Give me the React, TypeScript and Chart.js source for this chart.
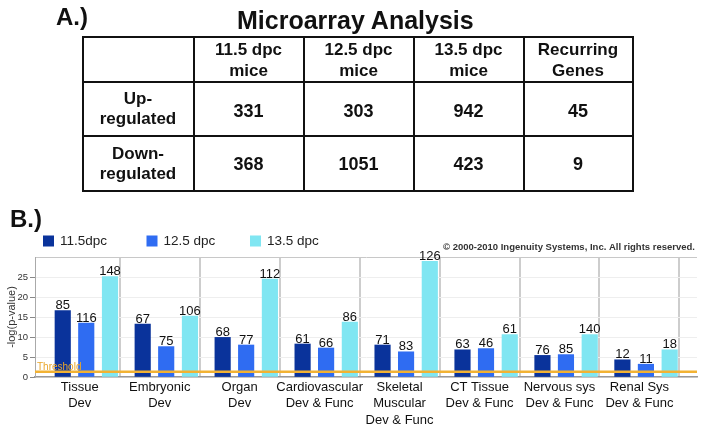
import React, { useEffect, useRef } from 'react';
import { Chart, registerables } from 'chart.js';

Chart.register(...registerables);

// ---------- Data (Panel A: table) ----------
const tableHeaders = [['11.5 dpc', 'mice'], ['12.5 dpc', 'mice'], ['13.5 dpc', 'mice'], ['Recurring', 'Genes']];
const tableRowLabels = [['Up-', 'regulated'], ['Down-', 'regulated']];
const upRegulated = [331, 303, 942, 45];
const downRegulated = [368, 1051, 423, 9];

// ---------- Data (Panel B: chart) ----------
const categories = [
  ['Tissue', 'Dev'],
  ['Embryonic', 'Dev'],
  ['Organ', 'Dev'],
  ['Cardiovascular', 'Dev & Func'],
  ['Skeletal', 'Muscular', 'Dev & Func'],
  ['CT Tissue', 'Dev & Func'],
  ['Nervous sys', 'Dev & Func'],
  ['Renal Sys', 'Dev & Func'],
];
const seriesNames = ['11.5dpc', '12.5 dpc', '13.5 dpc'];
const logP115 = [16.6, 13.2, 9.9, 8.25, 8.0, 6.8, 5.4, 4.3];
const logP125 = [13.5, 7.6, 8.0, 7.25, 6.3, 7.1, 5.6, 3.2];
const logP135 = [25.1, 15.2, 24.5, 13.7, 28.9, 10.6, 10.6, 6.8];
const genes115 = [85, 67, 68, 61, 71, 63, 76, 12];
const genes125 = [116, 75, 77, 66, 83, 46, 85, 11];
const genes135 = [148, 106, 112, 86, 126, 61, 140, 18];
const yMax = 30;
const yStep = 5;
const thresholdValue = 1.3;
const copyrightText = '\u00A9 2000-2010 Ingenuity Systems, Inc. All rights reserved.';

// ---------- Styles ----------
const FONT = '"Liberation Sans", Arial, Helvetica, sans-serif';
const seriesColors = ['#0a339b', '#2f6cf2', '#80e6f2'];
const barOffsets = [-0.213, 0.081, 0.378];
const seriesValues = [logP115, logP125, logP135];
const seriesGenes = [genes115, genes125, genes135];

const colWidths = [111, 110, 110, 110, 109];
const rowHeights = [45, 54, 55];
const tableX = 82.5;
const tableY = 37;

const overlayPlugin = {
  id: 'overlay',
  afterDatasetsDraw(chart: any) {
    const { ctx, chartArea, scales } = chart;
    ctx.save();
    // threshold
    const ty = scales.y.getPixelForValue(thresholdValue);
    ctx.strokeStyle = '#f2b233';
    ctx.lineWidth = 2.5;
    ctx.beginPath();
    ctx.moveTo(chartArea.left, ty);
    ctx.lineTo(chartArea.right, ty);
    ctx.stroke();
    ctx.fillStyle = '#eaa62a';
    ctx.font = `10px ${FONT}`;
    ctx.textAlign = 'left';
    ctx.textBaseline = 'alphabetic';
    ctx.fillText('Threshold', chartArea.left + 2, ty - 2);

    // value labels
    ctx.fillStyle = '#111';
    ctx.font = `13px ${FONT}`;
    ctx.textAlign = 'center';
    chart.data.datasets.forEach((_ds: any, di: number) => {
      const meta = chart.getDatasetMeta(di);
      meta.data.forEach((bar: any, i: number) => {
        ctx.fillText(String(seriesGenes[di][i]), bar.x, bar.y - 1.5);
      });
    });

    // legend
    ctx.font = `13.5px ${FONT}`;
    ctx.textAlign = 'left';
    ctx.textBaseline = 'middle';
    chart.data.datasets.forEach((ds: any, di: number) => {
      const x = 43 + di * 103.5;
      const y = 241;
      ctx.fillStyle = ds.backgroundColor;
      ctx.fillRect(x, y - 5.5, 11, 11);
      ctx.fillStyle = '#222';
      ctx.fillText(ds.label, x + 17, y);
    });

    // copyright
    ctx.font = `bold 9.5px ${FONT}`;
    ctx.fillStyle = '#333';
    ctx.textAlign = 'right';
    ctx.fillText(copyrightText, chartArea.right - 2, 247);
    ctx.restore();
  },
};

export default function App() {
  const ref = useRef<HTMLCanvasElement>(null);

  useEffect(() => {
    Chart.defaults.font.family = FONT;
    const chart = new Chart(ref.current as HTMLCanvasElement, {
      type: 'bar',
      data: {
        datasets: seriesNames.map((name, s) => ({
          label: name,
          data: seriesValues[s].map((v, i) => ({ x: i + barOffsets[s], y: v })),
          backgroundColor: seriesColors[s],
          grouped: false,
          barThickness: 15.5,
        })),
      },
      options: {
        responsive: false,
        animation: false,
        devicePixelRatio: 1,
        layout: { padding: { left: 0, right: 7, top: 257, bottom: 0 } },
        plugins: { legend: { display: false }, tooltip: { enabled: false } },
        scales: {
          x: {
            type: 'linear',
            offset: false,
            min: -0.56,
            max: 7.72,
            afterBuildTicks: (axis: any) => {
              axis.ticks = categories.map((_, i) => ({ value: i }));
            },
            afterFit: (axis: any) => {
              axis.height = 53;
            },
            ticks: {
              autoSkip: false,
              maxRotation: 0,
              minRotation: 0,
              padding: 2,
              color: '#111',
              font: { size: 13, lineHeight: 1.27 },
              callback: (v: any) => categories[v as number],
            },
            grid: {
              offset: true,
              drawTicks: false,
              color: (c: any) => (c.index === 0 ? 'rgba(0,0,0,0)' : '#cdcdcd'),
              lineWidth: 2,
            },
            border: { color: '#999', width: 1.5 },
          },
          y: {
            min: 0,
            max: yMax,
            afterFit: (axis: any) => {
              axis.width = 35;
            },
            ticks: {
              stepSize: yStep,
              padding: 2,
              color: '#333',
              font: { size: 9.5 },
              callback: (v: any) => (v === yMax ? '' : v),
            },
            grid: {
              color: (c: any) => (c.tick && c.tick.value === yMax ? '#c8c8c8' : '#eeeeee'),
              tickLength: 5,
              tickColor: (c: any) => (c.tick && c.tick.value === yMax ? 'rgba(0,0,0,0)' : '#888'),
            },
            border: { color: '#aaa', width: 1 },
            title: {
              display: true,
              text: '-log(p-value)',
              color: '#333',
              font: { size: 11 },
              padding: { top: 5, bottom: 0 },
            },
          },
        },
      } as any,
      plugins: [overlayPlugin],
    });
    return () => chart.destroy();
  }, []);

  const colEdges = colWidths.reduce((acc: number[], w) => [...acc, acc[acc.length - 1] + w], [tableX]);
  const rowEdges = rowHeights.reduce((acc: number[], h) => [...acc, acc[acc.length - 1] + h], [tableY]);
  const tableW = colEdges[colEdges.length - 1] - tableX;
  const tableH = rowEdges[rowEdges.length - 1] - tableY;

  const cell = (r: number, c: number, content: React.ReactNode, fs: number, lh: number, extraTop = 0) => (
    <div
      key={`c${r}-${c}`}
      style={{
        position: 'absolute',
        left: colEdges[c],
        top: rowEdges[r] + extraTop,
        width: colEdges[c + 1] - colEdges[c],
        height: rowEdges[r + 1] - rowEdges[r],
        display: 'flex',
        flexDirection: 'column',
        alignItems: 'center',
        justifyContent: 'center',
        fontWeight: 'bold',
        fontSize: fs,
        lineHeight: `${lh}px`,
        color: '#111',
        textAlign: 'center',
      }}
    >
      {content}
    </div>
  );

  const lines = (parts: string[]) => parts.map((p, i) => <div key={i}>{p}</div>);

  const cells: React.ReactNode[] = [];
  tableHeaders.forEach((h, c) => cells.push(cell(0, c + 1, lines(h), 17, 21)));
  tableRowLabels.forEach((l, r) => cells.push(cell(r + 1, 0, lines(l), 17, 20)));
  upRegulated.forEach((v, c) => cells.push(cell(1, c + 1, String(v), 18, 20, 2)));
  downRegulated.forEach((v, c) => cells.push(cell(2, c + 1, String(v), 18, 20, 0)));

  const gridLines: React.ReactNode[] = [];
  colEdges.forEach((x, i) =>
    gridLines.push(
      <div key={`v${i}`} style={{ position: 'absolute', left: x - 1, top: tableY - 1, width: 2, height: tableH + 2, background: '#111' }} />
    )
  );
  rowEdges.forEach((y, i) =>
    gridLines.push(
      <div key={`h${i}`} style={{ position: 'absolute', left: tableX - 1, top: y - 1, width: tableW + 2, height: 2, background: '#111' }} />
    )
  );

  return (
    <div
      style={{
        position: 'absolute',
        left: 0,
        top: 0,
        width: 704,
        height: 430,
        background: '#fff',
        fontFamily: FONT,
        overflow: 'hidden',
      }}
    >
      <canvas ref={ref} width={704} height={430} style={{ position: 'absolute', left: 0, top: 0, width: 704, height: 430 }} />
      <div style={{ position: 'absolute', left: 56, top: 4.7, fontSize: 24, lineHeight: 1, fontWeight: 'bold', color: '#111', whiteSpace: 'nowrap' }}>A.)</div>
      <div style={{ position: 'absolute', left: 237, top: 8.1, fontSize: 25, lineHeight: 1, fontWeight: 'bold', color: '#111', whiteSpace: 'nowrap' }}>
        Microarray Analysis
      </div>
      {gridLines}
      {cells}
      <div style={{ position: 'absolute', left: 10, top: 206.7, fontSize: 24, lineHeight: 1, fontWeight: 'bold', color: '#111', whiteSpace: 'nowrap' }}>B.)</div>
    </div>
  );
}
